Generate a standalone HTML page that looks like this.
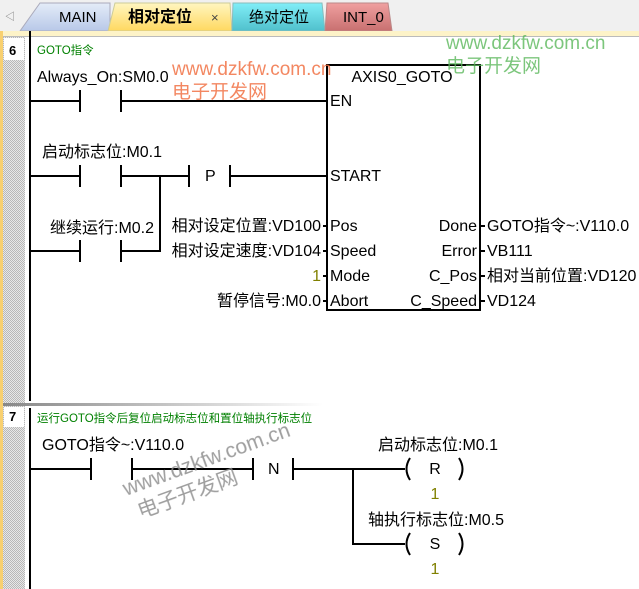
<!DOCTYPE html>
<html><head><meta charset="utf-8"><style>
html,body{margin:0;padding:0;background:#fff;}
svg{display:block;}
text{font-family:"Liberation Sans","Noto Sans CJK SC",sans-serif;}
</style></head><body>
<svg width="639" height="589" viewBox="0 0 639 589" xmlns="http://www.w3.org/2000/svg">
<defs>
<pattern id="h" width="2" height="2" patternUnits="userSpaceOnUse"><rect width="2" height="2" fill="#e8e8e8"/><rect width="1" height="1" fill="#b8b8b8"/><rect x="1" y="1" width="1" height="1" fill="#b8b8b8"/></pattern>
<linearGradient id="sep" x1="0" x2="1"><stop offset="0" stop-color="#888"/><stop offset="1" stop-color="#fff"/></linearGradient>
<linearGradient id="tm" x1="0" y1="0" x2="0" y2="1"><stop offset="0" stop-color="#e4ecf8"/><stop offset="1" stop-color="#b8c8e8"/></linearGradient>
<linearGradient id="ty" x1="0" y1="0" x2="0" y2="1"><stop offset="0" stop-color="#fff6c0"/><stop offset="1" stop-color="#ffd860"/></linearGradient>
<linearGradient id="tc" x1="0" y1="0" x2="0" y2="1"><stop offset="0" stop-color="#80eef8"/><stop offset="1" stop-color="#50c0cc"/></linearGradient>
<linearGradient id="tr" x1="0" y1="0" x2="0" y2="1"><stop offset="0" stop-color="#f0a0a0"/><stop offset="1" stop-color="#c87070"/></linearGradient>
</defs>
<rect x="0" y="0" width="639" height="31" fill="#f0f0f0"/>
<text x="5" y="20" font-size="10" fill="#777">◁</text>
<polygon points="20,31 40,3 110,3 110,31" fill="url(#tm)" stroke="#aab" stroke-width="1"/>
<text x="59" y="22" font-size="15" fill="#000">MAIN</text>
<polygon points="108,31 115,3 230,3 232,31" fill="url(#ty)" stroke="#cc9" stroke-width="1"/>
<text x="128" y="22" font-size="16" font-weight="bold" fill="#000">相对定位</text>
<text x="211" y="22" font-size="13" fill="#444">×</text>
<polygon points="232,31 233,3 322,3 325,31" fill="url(#tc)" stroke="#8bb" stroke-width="1"/>
<text x="249" y="22" font-size="15" fill="#000">绝对定位</text>
<polygon points="325,31 327,3 388,3 392,31" fill="url(#tr)" stroke="#b88" stroke-width="1"/>
<text x="343" y="22" font-size="15" fill="#000">INT_0</text>
<rect x="0" y="31" width="639" height="5" fill="#fdf3c8"/>
<rect x="0" y="36" width="639" height="1" fill="#bbb"/>
<rect x="0" y="31" width="3" height="558" fill="#f8d070"/>
<rect x="3" y="37" width="22" height="552" fill="url(#h)"/>
<rect x="4" y="38" width="20" height="22" fill="#fff"/>
<text x="9" y="55" font-size="13" font-weight="bold">6</text>
<rect x="4" y="407" width="20" height="20" fill="#fff"/>
<text x="9" y="421" font-size="13" font-weight="bold">7</text>
<rect x="3" y="403" width="320" height="3" fill="url(#sep)"/>
<rect x="29" y="31" width="2" height="370" fill="#000"/>
<rect x="29" y="408" width="2" height="181" fill="#000"/>
<g font-size="16" fill="#000">
<text x="37" y="54" font-size="11.5" fill="#008000">GOTO指令</text>
<text x="37" y="82">Always_On:SM0.0</text>
<g stroke="#000" stroke-width="2" fill="none">
<path d="M30 101H80M121 101H327"/>
<path d="M80 90V112M121 90V112"/>
<path d="M30 176H80M121 176H189M230 176H327"/>
<path d="M80 165V187M121 165V187M189 165V187M230 165V187"/>
<path d="M30 251H80M121 251H160V176"/>
<path d="M80 240V262M121 240V262"/>
<rect x="327" y="65" width="153" height="245" stroke-width="2"/>
<path d="M323 226H327M323 251H327M323 276H327M323 301H327M480 226H485M480 251H485M480 276H485M480 301H485"/>
</g>
<text x="42" y="157">启动标志位:M0.1</text>
<text x="205" y="181">P</text>
<text x="50" y="233">继续运行:M0.2</text>
<text x="402" y="82" text-anchor="middle">AXIS0_GOTO</text>
<text x="330" y="106">EN</text>
<text x="330" y="181">START</text>
<text x="330" y="231">Pos</text>
<text x="330" y="256">Speed</text>
<text x="330" y="281">Mode</text>
<text x="330" y="306">Abort</text>
<text x="477" y="231" text-anchor="end">Done</text>
<text x="477" y="256" text-anchor="end">Error</text>
<text x="477" y="281" text-anchor="end">C_Pos</text>
<text x="477" y="306" text-anchor="end">C_Speed</text>
<text x="321" y="231" text-anchor="end">相对设定位置:VD100</text>
<text x="321" y="256" text-anchor="end">相对设定速度:VD104</text>
<text x="321" y="281" text-anchor="end" fill="#808000">1</text>
<text x="321" y="306" text-anchor="end">暂停信号:M0.0</text>
<text x="487" y="231">GOTO指令~:V110.0</text>
<text x="487" y="256">VB111</text>
<text x="487" y="281">相对当前位置:VD120</text>
<text x="487" y="306">VD124</text>
<text x="37" y="422" font-size="11.5" fill="#008000">运行GOTO指令后复位启动标志位和置位轴执行标志位</text>
<text x="42" y="450">GOTO指令~:V110.0</text>
<g stroke="#000" stroke-width="2" fill="none">
<path d="M30 469H91M132 469H253M293 469H405"/>
<path d="M91 458V480M132 458V480M253 458V480M293 458V480"/>
<path d="M353 469V544H405"/>
<path d="M410 458Q403 469 410 480M459 458Q466 469 459 480"/>
<path d="M410 533Q403 544 410 555M459 533Q466 544 459 555"/>
</g>
<text x="268" y="474">N</text>
<text x="435" y="474" text-anchor="middle">R</text>
<text x="435" y="549" text-anchor="middle">S</text>
<text x="435" y="499" text-anchor="middle" fill="#808000">1</text>
<text x="435" y="574" text-anchor="middle" fill="#808000">1</text>
<text x="378" y="450">启动标志位:M0.1</text>
<text x="368" y="525">轴执行标志位:M0.5</text>
</g>
<g font-size="19" opacity="0.8">
<text x="172" y="75" fill="#f06a3a">www.dzkfw.com.cn</text>
<text x="172" y="98" fill="#f06a3a">电子开发网</text>
<text x="446" y="49" fill="#5cb85c">www.dzkfw.com.cn</text>
<text x="446" y="72" fill="#5cb85c">电子开发网</text>
<g transform="translate(126,496) rotate(-20)" fill="#888" font-size="21">
<text x="0" y="0">www.dzkfw.com.cn</text>
<text x="6" y="26">电子开发网</text>
</g>
</g>
</svg>
</body></html>
